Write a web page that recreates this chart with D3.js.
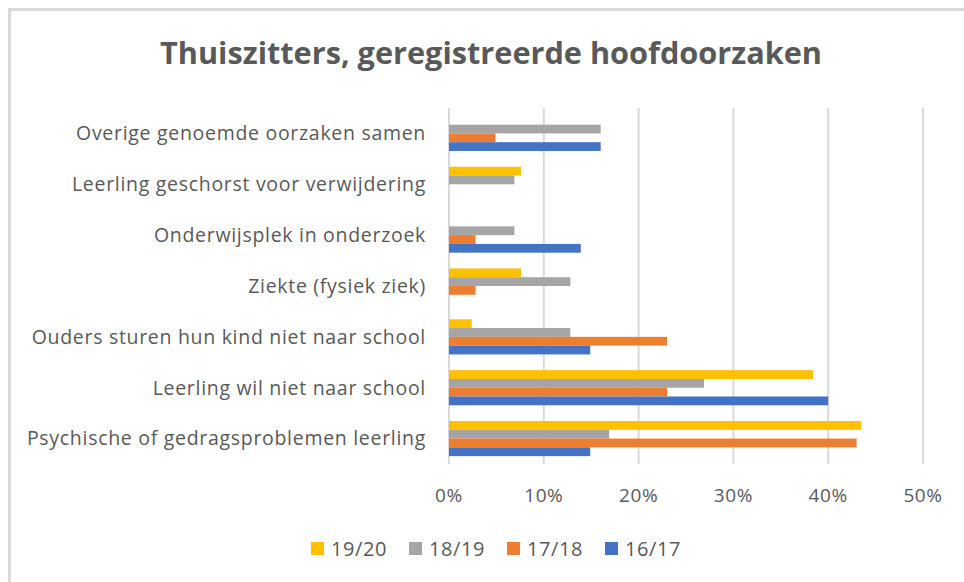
<!DOCTYPE html>
<html>
<head>
<meta charset="utf-8">
<script src="https://cdn.jsdelivr.net/npm/d3@7"></script>
<style>
  body { margin: 0; background: #fff; }
  text { font-family: "Open Sans", "DejaVu Sans", sans-serif; fill: #595959; }
</style>
</head>
<body>
<div id="chart"></div>
<script>
// data (share of thuiszitters, %)
const categories = [
  "Overige genoemde oorzaken samen",
  "Leerling geschorst voor verwijdering",
  "Onderwijsplek in onderzoek",
  "Ziekte (fysiek ziek)",
  "Ouders sturen hun kind niet naar school",
  "Leerling wil niet naar school",
  "Psychische of gedragsproblemen leerling"
];
const seriesNames = ["19/20", "18/19", "17/18", "16/17"];
const v1920 = [0, 7.6, 0, 7.6, 2.4, 38.4, 43.5];
const v1819 = [16.0, 6.9, 6.9, 12.8, 12.8, 26.9, 16.9];
const v1718 = [4.9, 0, 2.8, 2.8, 23.0, 23.0, 43.0];
const v1617 = [16.0, 0, 13.9, 0, 14.9, 40.0, 14.9];
const colors = ["#FFC000", "#A5A5A5", "#ED7D31", "#4472C4"];
const ticks = [0, 10, 20, 30, 40, 50];

const values = [v1920, v1819, v1718, v1617];
const W = 964, H = 582;

const svg = d3.select("#chart").append("svg").attr("width", W).attr("height", H);

// chart frame (only top/left visible in the crop)
svg.append("rect")
  .attr("x", 9.5).attr("y", 9.5)
  .attr("width", W + 20).attr("height", H + 20)
  .attr("fill", "none").attr("stroke", "#d9d9d9").attr("stroke-width", 3);

svg.append("text")
  .attr("x", 491).attr("y", 64)
  .attr("text-anchor", "middle")
  .attr("font-size", 31).attr("font-weight", "bold")
  .attr("textLength", 662).attr("lengthAdjust", "spacingAndGlyphs")
  .text("Thuiszitters, geregistreerde hoofdoorzaken");

var x = d3.scaleLinear().domain([0, 50]).range([449, 923]);
var y = d3.scaleBand().domain(categories).range([108, 464]).paddingInner(0.31).paddingOuter(0.155);
var ys = d3.scaleBand().domain(seriesNames).range([0, y.bandwidth()]);

// gridlines
svg.append("g")
  .selectAll("line")
  .data(ticks)
  .enter()
  .append("line")
  .attr("x1", d => x(d)).attr("x2", d => x(d))
  .attr("y1", 108).attr("y2", 464)
  .attr("stroke", "#d9d9d9").attr("stroke-width", 2);

// tick labels
svg.append("g")
  .selectAll("text")
  .data(ticks)
  .enter()
  .append("text")
  .attr("x", d => x(d)).attr("y", 502)
  .attr("text-anchor", "middle")
  .attr("font-size", 19)
  .attr("letter-spacing", 0.6)
  .text(d => d + "%");

// category labels
svg.append("g")
  .selectAll("text")
  .data(categories)
  .enter()
  .append("text")
  .attr("x", 426)
  .attr("y", d => y(d) + y.bandwidth() / 2)
  .attr("dy", ".35em")
  .attr("text-anchor", "end")
  .attr("font-size", 19.5)
  .attr("letter-spacing", 0.7)
  .text(d => d);

// bars
seriesNames.forEach((s, i) => {
  svg.append("g")
    .selectAll("rect")
    .data(values[i])
    .enter()
    .append("rect")
    .attr("x", x(0))
    .attr("y", (d, j) => y(categories[j]) + ys(s))
    .attr("width", d => x(d) - x(0))
    .attr("height", ys.bandwidth())
    .attr("fill", colors[i]);
});

// legend
const legendX = [311, 409, 507, 605];
const lg = svg.append("g")
  .selectAll("g")
  .data(seriesNames)
  .enter()
  .append("g")
  .attr("transform", (d, i) => `translate(${legendX[i]},542)`);
lg.append("rect").attr("width", 13).attr("height", 13).attr("fill", (d, i) => colors[i]);
lg.append("text").attr("x", 20).attr("y", 13.5).attr("font-size", 20).attr("letter-spacing", 0.6).text(d => d);
</script>
</body>
</html>
